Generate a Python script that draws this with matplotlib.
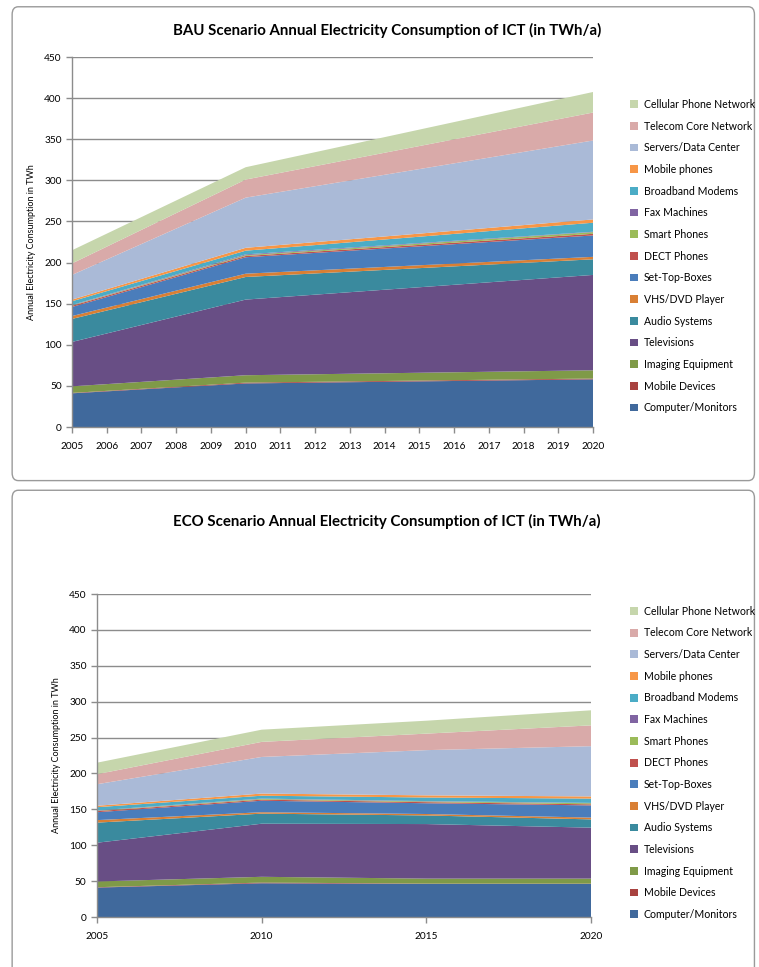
import matplotlib
matplotlib.use('Agg')
import matplotlib.pyplot as plt
from matplotlib.patches import FancyBboxPatch
import numpy as np

plt.rcParams['font.family'] = ['Lato', 'DejaVu Sans']

# categories, bottom of the stack first
categories = ['Computer/Monitors', 'Mobile Devices', 'Imaging Equipment', 'Televisions',
              'Audio Systems', 'VHS/DVD Player', 'Set-Top-Boxes', 'DECT Phones',
              'Smart Phones', 'Fax Machines', 'Broadband Modems', 'Mobile phones',
              'Servers/Data Center', 'Telecom Core Network', 'Cellular Phone Network']
colors = ['#40699C', '#A8423F', '#7F9A48', '#684E85', '#3A8A9E', '#D97F34', '#4A7DBB',
          '#C0504D', '#9BBB59', '#8064A2', '#4BACC6', '#F79646', '#AABAD7', '#D9AAA9', '#C6D6AC']

# BAU scenario (TWh/a) at 2005, 2010, 2020
bau_years = [2005, 2010, 2020]
bau_computer = [41, 53, 58]
bau_mobile_dev = [0.5, 1, 1]
bau_imaging = [8, 9, 10]
bau_tv = [54, 92, 116]
bau_audio = [28, 27.5, 19]
bau_vhs = [3.5, 4, 3]
bau_settop = [11, 20, 26]
bau_dect = [1.5, 1.5, 2]
bau_smart = [0.5, 1, 2]
bau_fax = [0.5, 1, 0.5]
bau_broadband = [4.5, 4.5, 11]
bau_mobile_ph = [2, 3.5, 4]
bau_servers = [30, 61, 96]
bau_telecom = [14, 22, 34]
bau_cellular = [16, 15, 25]

# ECO scenario (TWh/a) at 2005, 2010, 2015, 2020
eco_years = [2005, 2010, 2015, 2020]
eco_computer = [41, 47, 46, 46]
eco_mobile_dev = [0.5, 1, 0.5, 0.5]
eco_imaging = [8, 8, 7, 7]
eco_tv = [54, 74, 76, 71]
eco_audio = [28, 14, 12, 11.5]
eco_vhs = [3.5, 2, 2, 2.5]
eco_settop = [11, 16, 15, 17]
eco_dect = [1.5, 1.5, 1.5, 1.5]
eco_smart = [0.5, 1, 1, 1.5]
eco_fax = [0.5, 0.5, 0.5, 0.5]
eco_broadband = [4.5, 4, 5, 6]
eco_mobile_ph = [2, 3, 3, 3]
eco_servers = [30, 51, 63, 70]
eco_telecom = [14, 21, 23, 29]
eco_cellular = [16, 17, 18, 21]

bau = [bau_computer, bau_mobile_dev, bau_imaging, bau_tv, bau_audio, bau_vhs, bau_settop,
       bau_dect, bau_smart, bau_fax, bau_broadband, bau_mobile_ph, bau_servers, bau_telecom,
       bau_cellular]
eco = [eco_computer, eco_mobile_dev, eco_imaging, eco_tv, eco_audio, eco_vhs, eco_settop,
       eco_dect, eco_smart, eco_fax, eco_broadband, eco_mobile_ph, eco_servers, eco_telecom,
       eco_cellular]

fig = plt.figure(figsize=(7.59, 9.67), dpi=100)

# rounded panel frames
for (y0, h) in [(0.503, 0.49), (-0.02, 0.513)]:
    fig.patches.append(FancyBboxPatch((0.016, y0), 0.978, h, boxstyle='round,pad=0,rounding_size=0.008',
                                      transform=fig.transFigure, facecolor='none',
                                      edgecolor='#9a9a9a', linewidth=1.0))


def draw(ax, years, data, xticks, title, title_y, legend_anchor):
    polys = ax.stackplot(years, data, colors=colors, labels=categories, linewidth=0)
    ax.set_xlim(2005, 2020)
    ax.set_ylim(0, 450)
    ax.set_yticks(np.arange(0, 451, 50))
    ax.set_xticks(xticks)
    ax.grid(axis='y', color='#8c8c8c', linewidth=1.0)
    ax.set_axisbelow(True)
    for s in ['top', 'right']:
        ax.spines[s].set_visible(False)
    for s in ['left', 'bottom']:
        ax.spines[s].set_color('#8c8c8c')
        ax.spines[s].set_linewidth(1.0)
    ax.tick_params(colors='#8c8c8c', labelcolor='black', labelsize=7.3, length=4, width=1)
    ax.tick_params(axis='x', pad=7)
    ax.set_ylabel('Annual Electricity Consumption in TWh', fontsize=6.5, labelpad=6)
    fig.text(0.51, title_y, title, ha='center', va='center', fontsize=10.8, fontweight='bold')
    handles = polys[::-1]
    labels = categories[::-1]
    fig.legend(handles, labels, loc='upper left', bbox_to_anchor=legend_anchor,
               frameon=False, fontsize=7.6, handlelength=0.75, handleheight=0.75,
               handletextpad=0.5, labelspacing=1.01, borderaxespad=0)


ax1 = fig.add_axes([0.0949, 0.5584, 0.6864, 0.3826])
draw(ax1, bau_years, bau, np.arange(2005, 2021, 1),
     'BAU Scenario Annual Electricity Consumption of ICT (in TWh/a)', 0.969, (0.825, 0.902))

ax2 = fig.add_axes([0.1278, 0.0517, 0.6509, 0.334])
draw(ax2, eco_years, eco, [2005, 2010, 2015, 2020],
     'ECO Scenario Annual Electricity Consumption of ICT (in TWh/a)', 0.461, (0.825, 0.378))

fig.savefig('out.png', dpi=100)
